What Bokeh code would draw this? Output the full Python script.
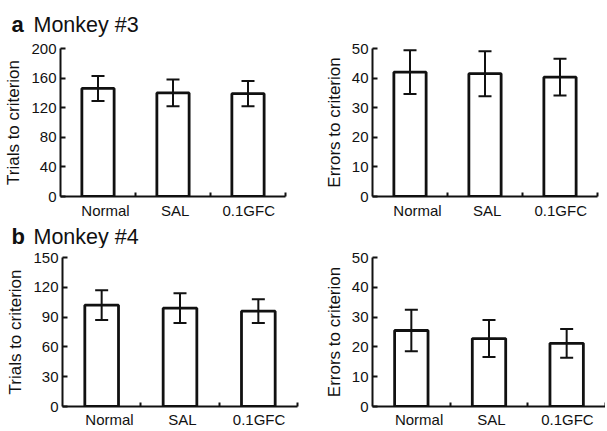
from bokeh.plotting import figure
from bokeh.layouts import column, row
from bokeh.models import Range1d, FixedTicker, Whisker, TeeHead, ColumnDataSource
from bokeh.core.properties import value
from bokeh.embed import file_html
from bokeh.resources import INLINE

conditions = ["Normal", "SAL", "0.1GFC"]

m3_trials = [146, 140, 139]
m3_trials_err = [17, 18, 17]
m3_errors = [42, 41.5, 40.3]
m3_errors_err = [7.4, 7.6, 6.2]

m4_trials = [102, 99, 96]
m4_trials_err = [15, 15, 12]
m4_errors = [25.5, 22.8, 21.2]
m4_errors_err = [7, 6.2, 4.8]

m3_trials_ticks = [0, 40, 80, 120, 160, 200]
m4_trials_ticks = [0, 30, 60, 90, 120, 150]
errors_ticks = [0, 10, 20, 30, 40, 50]

FONT = "Liberation Sans"
INK = "#111111"
LABEL_SHIFT = [0.1, 0.03, 0.01]   # small rightward nudge of category labels (style)
TOTAL_W = 605


def title_fig(h, letter, name, letter_x, name_x, ymid):
    f = figure(width=TOTAL_W, height=h, x_range=Range1d(0, TOTAL_W), y_range=Range1d(0, h),
               x_axis_type=None, y_axis_type=None, min_border=0, title=None,
               toolbar_location=None, output_backend="svg")
    f.outline_line_color = None
    f.grid.visible = False
    f.text(x=[letter_x], y=[ymid], text=[letter], text_font=value(FONT),
           text_font_size="22px", text_font_style="bold", text_color=INK,
           text_baseline="middle", text_align="left")
    f.text(x=[name_x], y=[ymid], text=[name], text_font=value(FONT),
           text_font_size="21.5px", text_color=INK,
           text_baseline="middle", text_align="left")
    return f


def panel(values, errs, yticks, ylabel, w, h, bl, br, bt, bb, xstand):
    n = len(conditions)
    ymax = yticks[-1]
    p = figure(width=w, height=h, min_border_left=bl, min_border_right=br,
               min_border_top=bt, min_border_bottom=bb, title=None,
               x_range=Range1d(0, n), y_range=Range1d(0, ymax),
               toolbar_location=None, output_backend="svg",
               background_fill_color="white", border_fill_color="white")
    p.outline_line_color = None
    p.xgrid.visible = False
    p.ygrid.visible = False

    xs = [i + 0.5 for i in range(n)]
    src = ColumnDataSource(dict(
        x=xs, top=values,
        upper=[v + e for v, e in zip(values, errs)],
        lower=[v - e for v, e in zip(values, errs)],
    ))
    p.vbar(x="x", top="top", bottom=0, width=0.43, source=src,
           fill_color="white", line_color=INK, line_width=2.8)
    wk = Whisker(source=src, base="x", upper="upper", lower="lower",
                 line_color=INK, line_width=2, level="overlay",
                 upper_head=TeeHead(size=13, line_width=2, line_color=INK),
                 lower_head=TeeHead(size=13, line_width=2, line_color=INK))
    p.add_layout(wk)

    label_pos = [x + s for x, s in zip(xs, LABEL_SHIFT)]
    xa = p.xaxis[0]
    xa.ticker = FixedTicker(ticks=label_pos, minor_ticks=[i + 1 for i in range(n)])
    xa.major_label_overrides = {x: c for x, c in zip(label_pos, conditions)}
    xa.major_tick_line_color = None
    xa.major_tick_in = 0
    xa.major_tick_out = 0
    xa.minor_tick_in = 4
    xa.minor_tick_out = 0
    xa.minor_tick_line_width = 2
    xa.minor_tick_line_color = INK
    xa.axis_line_width = 2
    xa.axis_line_color = INK
    xa.axis_label = None
    xa.axis_label_standoff = 0
    xa.major_label_text_font = FONT
    xa.major_label_text_font_size = "15px"
    xa.major_label_text_color = INK
    xa.major_label_standoff = xstand

    ya = p.yaxis[0]
    ya.ticker = FixedTicker(ticks=yticks)
    ya.major_tick_in = 5
    ya.major_tick_out = 0
    ya.major_tick_line_width = 2
    ya.major_tick_line_color = INK
    ya.minor_tick_line_color = None
    ya.minor_tick_in = 0
    ya.minor_tick_out = 0
    ya.axis_line_width = 2
    ya.axis_line_color = INK
    ya.major_label_text_font = FONT
    ya.major_label_text_font_size = "15px"
    ya.major_label_text_color = INK
    ya.major_label_standoff = 4
    ya.axis_label = ylabel
    ya.axis_label_text_font = FONT
    ya.axis_label_text_font_size = "17px"
    ya.axis_label_text_font_style = "normal"
    ya.axis_label_text_color = INK
    ya.axis_label_standoff = 5
    return p


t1 = title_fig(37, "a", "Monkey #3", 11, 33, 13)
p1 = panel(m3_trials, m3_trials_err, m3_trials_ticks, "Trials to criterion",
           300, 185, 60, 15, 11, 26, 5)
p2 = panel(m3_errors, m3_errors_err, errors_ticks, "Errors to criterion",
           305, 185, 72, 8, 11, 26, 5)
t2 = title_fig(26, "b", "Monkey #4", 11, 33, 12)
p3 = panel(m4_trials, m4_trials_err, m4_trials_ticks, "Trials to criterion",
           300, 182, 62, 3, 9, 24, 4)
p4 = panel(m4_errors, m4_errors_err, errors_ticks, "Errors to criterion",
           305, 182, 72, 0, 9, 24, 4)

layout = column(t1, row(p1, p2), t2, row(p3, p4))
open("out.html", "w").write(file_html(layout, INLINE))
